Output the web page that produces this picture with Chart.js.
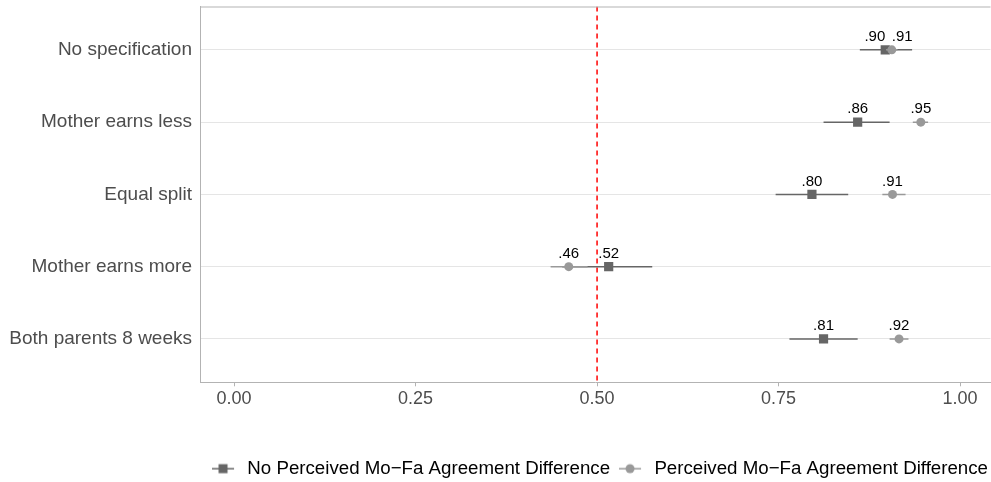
<!DOCTYPE html>
<html>
<head>
<meta charset="utf-8">
<script src="https://cdn.jsdelivr.net/npm/chart.js@4.4.1/dist/chart.umd.min.js"></script>
<style>
  html, body { margin: 0; padding: 0; background: #fff; overflow: hidden; }
  /* a little wider than the window: the panel runs off the right edge like in the original */
  #wrap { width: 997px; height: 482px; }
</style>
</head>
<body>
<div id="wrap"><canvas id="chart"></canvas></div>
<script>
// categories, top to bottom
const categories = ['No specification', 'Mother earns less', 'Equal split', 'Mother earns more', 'Both parents 8 weeks'];

// No Perceived Mo-Fa Agreement Difference (squares)
const noDiffMean = [0.897, 0.859, 0.796, 0.516, 0.812];
const noDiffLow  = [0.862, 0.812, 0.746, 0.452, 0.765];
const noDiffHigh = [0.934, 0.903, 0.846, 0.576, 0.859];

// Perceived Mo-Fa Agreement Difference (circles)
const diffMean = [0.906, 0.946, 0.907, 0.461, 0.916];
const diffLow  = [0.898, 0.935, 0.893, 0.436, 0.903];
const diffHigh = [0.914, 0.956, 0.925, 0.487, 0.929];

const xTicks = [0, 0.25, 0.5, 0.75, 1];
const refLine = 0.5;

const seriesNames = ['No Perceived Mo\u2212Fa Agreement Difference', 'Perceived Mo\u2212Fa Agreement Difference'];
const darkGrey = '#666666';
const lightGrey = '#999999';
const FONT = '"Liberation Sans", Arial, Helvetica, sans-serif';

// little legend icons: line with marker in the middle (a bit of blank room on the right)
function legendIcon(color, square) {
  const c = document.createElement('canvas');
  c.width = 26; c.height = 12;
  const g = c.getContext('2d');
  g.strokeStyle = color; g.lineWidth = 1.5;
  g.beginPath(); g.moveTo(0, 6); g.lineTo(22, 6); g.stroke();
  g.fillStyle = color;
  if (square) g.fillRect(6.5, 1.5, 9, 9);
  else { g.beginPath(); g.arc(11, 6, 4.5, 0, Math.PI * 2); g.fill(); }
  return c;
}

let datasets = [];

// red dashed reference line
datasets.push({
  data: [{ x: refLine, y: -0.6 }, { x: refLine, y: 4.6 }],
  showLine: true, borderColor: '#ff0000', borderWidth: 1.5, borderDash: [5, 4],
  pointRadius: 0, order: 10
});

// error bars
categories.forEach((c, i) => {
  datasets.push({
    data: [{ x: noDiffLow[i], y: i }, { x: noDiffHigh[i], y: i }],
    showLine: true, borderColor: darkGrey, borderWidth: 1.5, pointRadius: 0, order: 8
  });
  datasets.push({
    data: [{ x: diffLow[i], y: i }, { x: diffHigh[i], y: i }],
    showLine: true, borderColor: lightGrey, borderWidth: 1.5, pointRadius: 0, order: 4
  });
});

datasets.push({
  label: seriesNames[0], id: 'noDiff',
  data: noDiffMean.map((v, i) => ({ x: v, y: i })),
  pointStyle: 'rect', pointRadius: 6.5, pointBorderWidth: 0,
  backgroundColor: darkGrey, borderColor: darkGrey, order: 6
});
datasets.push({
  label: seriesNames[1], id: 'diff',
  data: diffMean.map((v, i) => ({ x: v, y: i })),
  pointStyle: 'circle', pointRadius: 4.5, pointBorderWidth: 0,
  backgroundColor: lightGrey, borderColor: lightGrey, order: 2
});

const fmt = v => v.toFixed(2).replace(/^0/, '');

// value labels over the points + top border of the panel
const extras = {
  id: 'extras',
  afterDatasetsDraw(chart) {
    const ctx = chart.ctx;
    const a = chart.chartArea;
    ctx.save();
    ctx.strokeStyle = '#b3b3b3'; ctx.lineWidth = 1;
    ctx.beginPath(); ctx.moveTo(a.left, a.top + 0.5); ctx.lineTo(a.right, a.top + 0.5); ctx.stroke();

    ctx.fillStyle = '#000';
    ctx.font = '15px ' + FONT;
    ctx.textBaseline = 'middle';
    const sq = chart.getDatasetMeta(datasets.length - 2).data;
    const ci = chart.getDatasetMeta(datasets.length - 1).data;
    categories.forEach((c, j) => {
      const close = Math.abs(sq[j].x - ci[j].x) < 24;
      // when the two labels would collide, push them apart (repel)
      ctx.textAlign = close ? (sq[j].x <= ci[j].x ? 'right' : 'left') : 'center';
      ctx.fillText(fmt(noDiffMean[j]), sq[j].x, sq[j].y - 13);
      ctx.textAlign = close ? (sq[j].x <= ci[j].x ? 'left' : 'right') : 'center';
      ctx.fillText(fmt(diffMean[j]), ci[j].x, ci[j].y - 13);
    });
    ctx.restore();
  }
};

new Chart(document.getElementById('chart'), {
  type: 'scatter',
  data: { datasets: datasets },
  plugins: [extras],
  options: {
    responsive: true,
    maintainAspectRatio: false,
    animation: false,
    events: [],
    layout: { padding: { top: 6, right: 0, bottom: -6, left: 0 } },
    plugins: {
      tooltip: { enabled: false },
      legend: {
        position: 'bottom',
        align: 'end',
        labels: {
          usePointStyle: true,
          pointStyleWidth: 26,
          padding: 9,
          color: '#1a1a1a',
          font: { family: FONT, size: 18.7 },
          generateLabels: () => [
            { text: seriesNames[0], pointStyle: legendIcon(darkGrey, true), fillStyle: darkGrey, strokeStyle: darkGrey, lineWidth: 0, datasetIndex: datasets.length - 2 },
            { text: seriesNames[1], pointStyle: legendIcon(lightGrey, false), fillStyle: lightGrey, strokeStyle: lightGrey, lineWidth: 0, datasetIndex: datasets.length - 1 }
          ]
        }
      }
    },
    scales: {
      x: {
        type: 'linear',
        min: -0.047, max: 1.042,
        afterBuildTicks: s => { s.ticks = xTicks.map(v => ({ value: v })); },
        afterFit: s => { s.height = 68; s.paddingLeft = 0; s.paddingRight = 0; },
        grid: { drawOnChartArea: false, drawTicks: true, tickLength: 4, tickColor: '#b3b3b3' },
        border: { display: true, color: '#b3b3b3', width: 1 },
        ticks: {
          color: '#4d4d4d', padding: 2,
          font: { family: FONT, size: 18 },
          callback: v => Number(v).toFixed(2)
        }
      },
      y: {
        type: 'linear',
        reverse: true,
        min: -0.6, max: 4.6,
        afterBuildTicks: s => { s.ticks = categories.map((c, i) => ({ value: i })); },
        afterFit: s => { s.width = 200; s.paddingTop = 0; s.paddingBottom = 0; },
        grid: { color: '#e5e5e5', drawTicks: false },
        border: { display: true, color: '#b3b3b3', width: 1 },
        ticks: {
          color: '#4d4d4d', padding: 8,
          font: { family: FONT, size: 19 },
          callback: v => categories[v]
        }
      }
    }
  }
});
</script>
</body>
</html>
